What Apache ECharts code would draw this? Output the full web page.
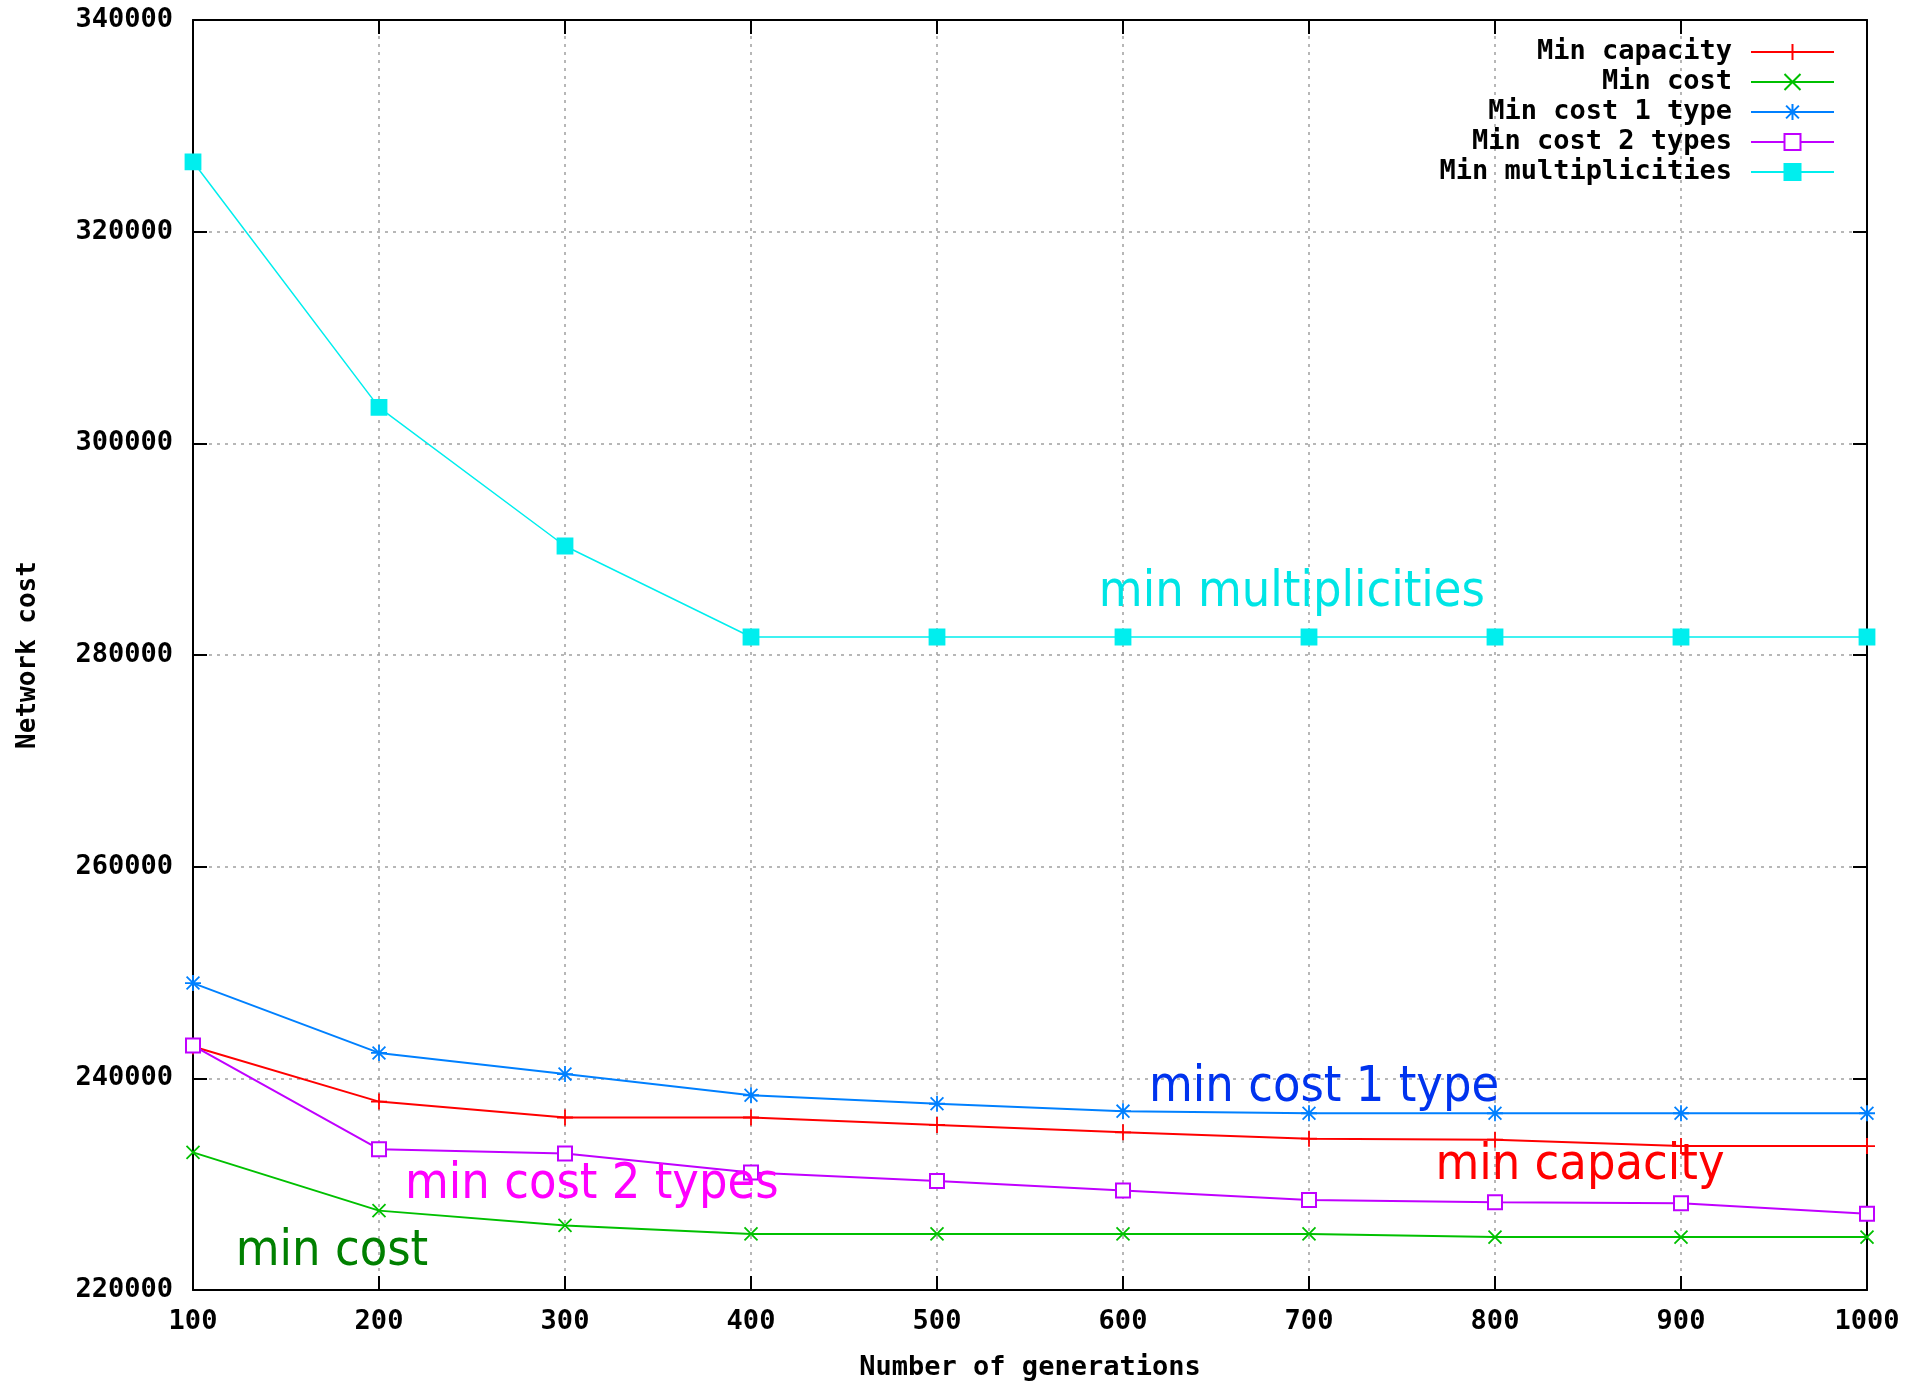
<!DOCTYPE html>
<html>
<head>
<meta charset="utf-8">
<script src="https://cdn.jsdelivr.net/npm/echarts@6/dist/echarts.min.js"></script>
<style>
  html, body { margin: 0; padding: 0; background: #fff; }
  #chart { width: 1916px; height: 1382px; }
</style>
</head>
<body>
<div id="chart"></div>
<script>
const generations = [100, 200, 300, 400, 500, 600, 700, 800, 900, 1000];
const minCapacity = [243000, 237800, 236300, 236300, 235600, 234900, 234300, 234200, 233600, 233600];
const minCost = [233000, 227500, 226100, 225300, 225300, 225300, 225300, 225000, 225000, 225000];
const minCost1Type = [249000, 242400, 240400, 238400, 237600, 236900, 236700, 236700, 236700, 236700];
const minCost2Types = [243100, 233300, 232900, 231100, 230300, 229400, 228500, 228300, 228200, 227200];
const minMultiplicities = [326600, 303400, 290300, 281700, 281700, 281700, 281700, 281700, 281700, 281700];

const seriesNames = ['Min capacity', 'Min cost', 'Min cost 1 type', 'Min cost 2 types', 'Min multiplicities'];
const yTicks = [220000, 240000, 260000, 280000, 300000, 320000, 340000];

// annotations: text, anchor x (generations), anchor y (cost)
const annoText = ['min multiplicities', 'min cost 1 type', 'min capacity', 'min cost 2 types', 'min cost'];
const annoX = [587, 614, 768, 214, 123];
const annoY = [285900, 239100, 231700, 229900, 223600];
const annoColor = ['#00e5e5', '#0033ee', '#ff0000', '#ff00ff', '#008000'];

const MONO = '"DejaVu Sans Mono", "Liberation Mono", monospace';

function pairs(ys) { return generations.map((g, i) => [g, ys[i]]); }

const PLUS = 'path://M0,-1L0,1M-1,0L1,0';
const CROSS = 'path://M-1,-1L1,1M-1,1L1,-1';
const STAR = 'path://M0,-1L0,1M-1,0L1,0M-0.8,-0.8L0.8,0.8M-0.8,0.8L0.8,-0.8';

function mkSeries(name, ys, color, symbol, size, lw) {
  return {
    name: name, type: 'line', data: pairs(ys),
    symbol: symbol, symbolSize: size, showAllSymbol: true,
    lineStyle: { color: color, width: lw },
    itemStyle: { color: color, borderColor: color, borderWidth: 1.8 },
    emphasis: { disabled: true },
    animation: false, z: 3
  };
}

const chart = echarts.init(document.getElementById('chart'));
const axisCommon = {
  type: 'value',
  axisLine: { show: true, onZero: false, lineStyle: { color: '#000', width: 2 } },
  axisTick: { show: true, inside: true, length: 14, lineStyle: { color: '#000', width: 2 } }
};
const plain = v => String(v);
chart.setOption({
  animation: false,
  backgroundColor: '#fff',
  grid: { left: 193, right: 49, top: 20, bottom: 92, containLabel: false, outerBoundsMode: 'none' },
  legend: {
    data: seriesNames,
    orient: 'vertical', align: 'right',
    right: 76, top: 32,
    itemWidth: 83, itemHeight: 20, itemGap: 0,
    textStyle: { fontFamily: MONO, fontWeight: 'bold', fontSize: 27, color: '#000', lineHeight: 30, padding: [0, 14, 0, 0] },
    selectedMode: false
  },
  xAxis: [
    Object.assign({}, axisCommon, {
      min: 100, max: 1000, interval: 100, position: 'bottom',
      name: 'Number of generations', nameLocation: 'middle', nameGap: 64,
      nameTextStyle: { fontFamily: MONO, fontWeight: 'bold', fontSize: 27, color: '#000' },
      axisLabel: { fontFamily: MONO, fontWeight: 'bold', fontSize: 27, color: '#000', margin: 18, formatter: plain },
      splitLine: { show: true, lineStyle: { color: '#a0a0a0', width: 1.5, type: [3, 5] } }
    }),
    Object.assign({}, axisCommon, {
      min: 100, max: 1000, interval: 100, position: 'top',
      axisLabel: { show: false }, splitLine: { show: false }
    })
  ],
  yAxis: [
    Object.assign({}, axisCommon, {
      min: yTicks[0], max: yTicks[yTicks.length - 1], interval: 20000, position: 'left',
      name: 'Network cost', nameLocation: 'middle', nameGap: 152, nameRotate: 90,
      nameTextStyle: { fontFamily: MONO, fontWeight: 'bold', fontSize: 26, color: '#000' },
      axisLabel: { fontFamily: MONO, fontWeight: 'bold', fontSize: 27, color: '#000', margin: 20, formatter: plain },
      splitLine: { show: true, lineStyle: { color: '#a0a0a0', width: 1.5, type: [3, 5] } }
    }),
    Object.assign({}, axisCommon, {
      min: yTicks[0], max: yTicks[yTicks.length - 1], interval: 20000, position: 'right',
      axisLabel: { show: false }, splitLine: { show: false }
    })
  ],
  series: [
    mkSeries(seriesNames[0], minCapacity, '#ff0000', PLUS, 16, 2),
    mkSeries(seriesNames[1], minCost, '#00c000', CROSS, 13, 2),
    mkSeries(seriesNames[2], minCost1Type, '#0080ff', STAR, 16, 2),
    mkSeries(seriesNames[3], minCost2Types, '#c000ff', 'emptyRect', 14, 2),
    mkSeries(seriesNames[4], minMultiplicities, '#00eeee', 'rect', 15, 1.5)
  ]
});

const graphics = annoText.map((t, i) => {
  const p = chart.convertToPixel({ xAxisIndex: 0, yAxisIndex: 0 }, [annoX[i], annoY[i]]);
  return {
    type: 'text', x: p[0], y: p[1], z: 10,
    style: {
      text: t, fill: annoColor[i],
      font: '50px "DejaVu Sans Condensed", "Liberation Sans Narrow", sans-serif',
      textAlign: 'left', textVerticalAlign: 'middle'
    }
  };
});
chart.setOption({ graphic: graphics });
</script>
</body>
</html>
